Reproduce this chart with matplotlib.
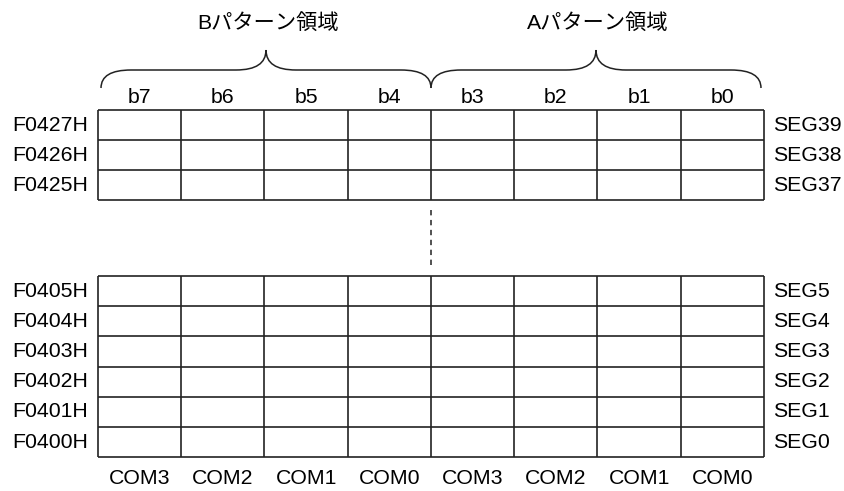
import matplotlib
matplotlib.use("Agg")
import matplotlib.pyplot as plt
from matplotlib.path import Path
from matplotlib.patches import PathPatch

plt.rcParams['font.family'] = ['Liberation Sans', 'Noto Sans CJK JP', 'DejaVu Sans']

pattern_titles = ["Bパターン領域", "Aパターン領域"]
bit_labels = ["b7", "b6", "b5", "b4", "b3", "b2", "b1", "b0"]
com_labels = ["COM3", "COM2", "COM1", "COM0", "COM3", "COM2", "COM1", "COM0"]
top_addresses = ["F0427H", "F0426H", "F0425H"]
top_segs = ["SEG39", "SEG38", "SEG37"]
bottom_addresses = ["F0405H", "F0404H", "F0403H", "F0402H", "F0401H", "F0400H"]
bottom_segs = ["SEG5", "SEG4", "SEG3", "SEG2", "SEG1", "SEG0"]

W, H = 845, 491
fig = plt.figure(figsize=(W / 100, H / 100), dpi=100)
ax = fig.add_axes([0, 0, 1, 1])
ax.set_xlim(0, W)
ax.set_ylim(H, 0)
ax.axis("off")

fs = 15.3
x0, x1 = 98, 764
ncol = len(bit_labels)
cw = (x1 - x0) / ncol
col_edges = [x0 + i * cw for i in range(ncol + 1)]
col_mid = [x0 + (i + 0.5) * cw for i in range(ncol)]


def draw_block(top, rh, addrs, segs):
    n = len(addrs)
    ys = [top + i * rh for i in range(n + 1)]
    ax.hlines(ys, x0, x1, color="#222222", lw=1.2)
    ax.vlines(col_edges, ys[0], ys[-1], color="#222222", lw=1.2)
    for i, (a, s) in enumerate(zip(addrs, segs)):
        yc = top + (i + 0.5) * rh
        ax.text(x0 - 10, yc, a, ha="right", va="center", fontsize=fs)
        ax.text(x1 + 9, yc, s, ha="left", va="center", fontsize=fs)
    return ys


top_ys = draw_block(110, 30.1, top_addresses, top_segs)
bot_ys = draw_block(276, 30.2, bottom_addresses, bottom_segs)

# dotted continuation line in the middle
ax.vlines(col_edges[4], top_ys[-1] + 10, bot_ys[0] - 9, color="#222222",
          lw=1.1, linestyles=(0, (3.5, 3)))

for x, b in zip(col_mid, bit_labels):
    ax.text(x, 97, b, ha="center", va="center", fontsize=fs)
for x, c in zip(col_mid, com_labels):
    ax.text(x, 479, c, ha="center", va="center", fontsize=fs)


def brace(xa, xb, y_end=88, y_flat=70, y_peak=50, r=30):
    xm = (xa + xb) / 2
    verts = [(xa, y_end), (xa, y_flat), (xa + r, y_flat),
             (xm - r, y_flat), (xm, y_flat), (xm, y_peak),
             (xm, y_flat), (xm + r, y_flat),
             (xb - r, y_flat), (xb, y_flat), (xb, y_end)]
    codes = [Path.MOVETO, Path.CURVE3, Path.CURVE3,
             Path.LINETO, Path.CURVE3, Path.CURVE3,
             Path.CURVE3, Path.CURVE3,
             Path.LINETO, Path.CURVE3, Path.CURVE3]
    ax.add_patch(PathPatch(Path(verts, codes), fill=False, ec="#222222", lw=1.1))
    return xm


half = ncol // 2
for k, title in enumerate(pattern_titles):
    xa = col_edges[k * half] + (3 if k == 0 else 0)
    xb = col_edges[(k + 1) * half] - (3 if k == 1 else 0)
    xm = brace(xa, xb)
    ax.text(xm + 2, 23, title, ha="center", va="center", fontsize=fs)

fig.savefig("out.png", dpi=100)
